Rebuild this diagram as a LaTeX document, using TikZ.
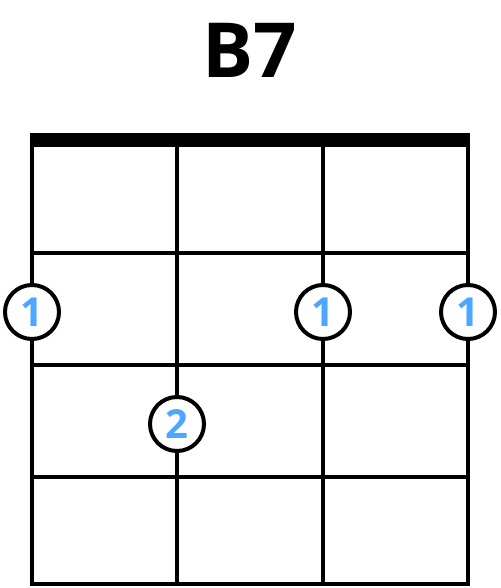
\documentclass[tikz,border=0pt]{standalone}
\usepackage{fontspec}
\setmainfont{Open Sans}
\definecolor{fingerblue}{RGB}{77,166,255}
\begin{document}
\begin{tikzpicture}[x=1pt, y=-1pt,
		gridline/.style={line width=4pt},
		finger/.style={circle, draw, line width=4pt, fill=white, minimum size=54pt, inner sep=0pt, text=fingerblue, font=\fontsize{40}{40}\selectfont\bfseries},
	]
	\useasboundingbox (0,0) rectangle (500,588);
	\node[font=\fontsize{76}{76}\selectfont\bfseries] (title) at (250,50) {B7};

	% nut
	\fill (30,133) rectangle (470,147);

	% strings
	\draw[gridline] (32,140) -- (32,584);
	\draw[gridline] (177,140) -- (177,584);
	\draw[gridline] (323,140) -- (323,584);
	\draw[gridline] (468,140) -- (468,584);

	% frets
	\draw[gridline] (30,253) -- (470,253);
	\draw[gridline] (30,365) -- (470,365);
	\draw[gridline] (30,477) -- (470,477);
	\draw[gridline] (30,584) -- (470,584);

	% fingers
	\node[finger] (f1) at (32,312)  {1};
	\node[finger] (f2) at (323,312) {1};
	\node[finger] (f3) at (468,312) {1};
	\node[finger] (f4) at (177,424) {2};
\end{tikzpicture}
\end{document}
